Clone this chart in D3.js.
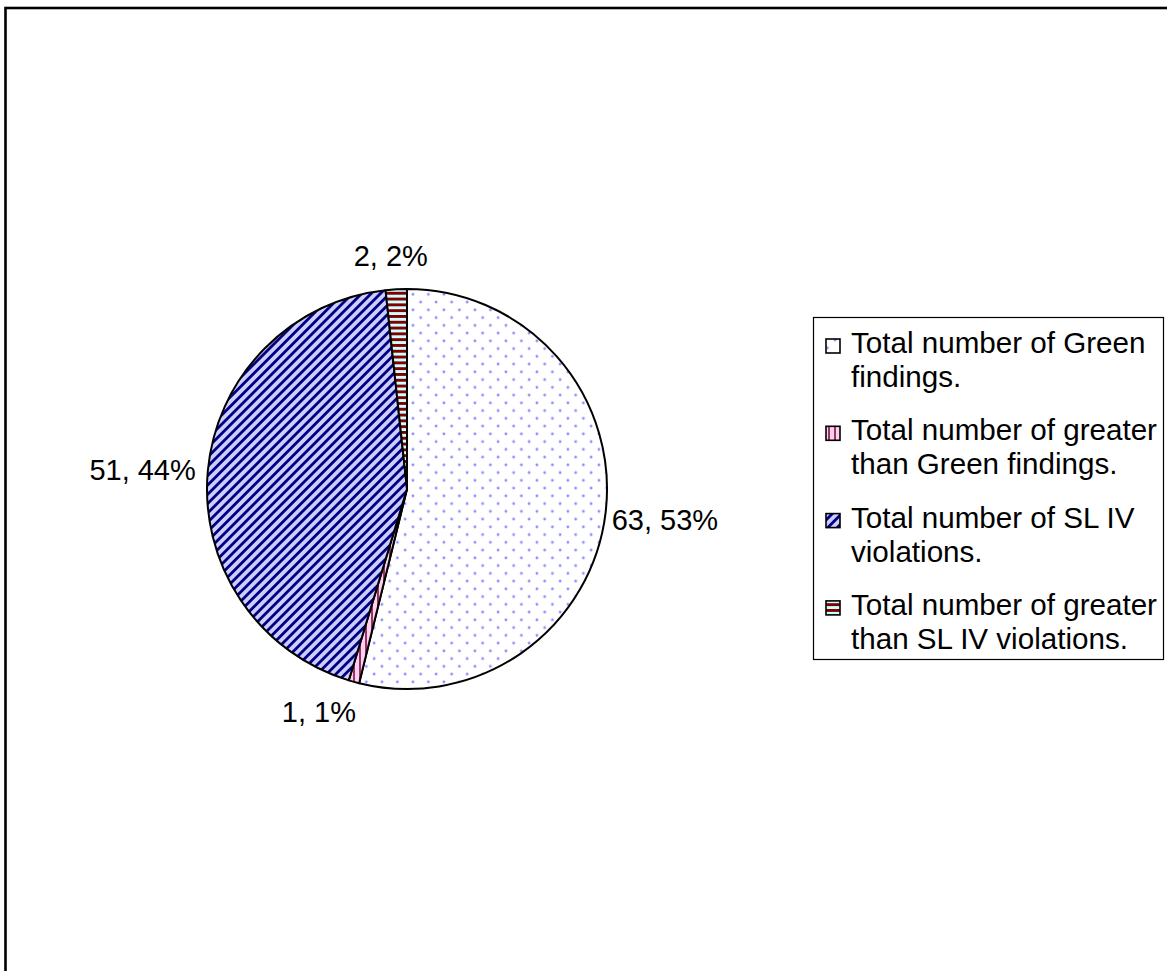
<!DOCTYPE html>
<html><head><meta charset="utf-8">
<script src="https://cdn.jsdelivr.net/npm/d3@7/dist/d3.min.js"></script>
<style>body{margin:0;background:#fff}svg{display:block}</style>
</head><body><svg id="c" width="1167" height="971"></svg>
<script>
// ---- data ----
const categories = ["Total number of Green findings.", "Total number of greater than Green findings.", "Total number of SL IV violations.", "Total number of greater than SL IV violations."];
const values = [63, 1, 51, 2];
const percentLabels = ["53%", "1%", "44%", "2%"];
const legendLines = [["Total number of Green", "findings."], ["Total number of greater", "than Green findings."], ["Total number of SL IV", "violations."], ["Total number of greater", "than SL IV violations."]];

// ---- layout ----
const FONT = "'Liberation Sans', Arial, sans-serif";
const FS = 29;
const LFS = 29.6;
const cx = 407, cy = 489, R = 200;
const labelGap = 8;
const labelNudge = [[-3, -1], [-26, -3], [-3, 5], [-4, -7]];
const patIds = ["pGreen", "pGtGreen", "pSL4", "pGtSL4"];

const svg = d3.select("#c");
svg.append("rect").attr("width", 1167).attr("height", 971).attr("fill", "#fff");
// outer frame
svg.append("rect").attr("x", 5.5).attr("y", 8).attr("width", 1300).attr("height", 1100)
  .attr("fill", "none").attr("stroke", "#000").attr("stroke-width", 2.6);

const defs = svg.append("defs");
// dotted (green findings)
let p = defs.append("pattern").attr("id", "pGreen").attr("patternUnits", "userSpaceOnUse")
  .attr("width", 15.5).attr("height", 15.5).attr("x", 2).attr("y", 3);
p.append("rect").attr("width", 15.5).attr("height", 15.5).attr("fill", "#fff");
p.append("circle").attr("cx", 3.9).attr("cy", 3.9).attr("r", 1.4).attr("fill", "#8c8cff");
p.append("circle").attr("cx", 11.65).attr("cy", 11.65).attr("r", 1.4).attr("fill", "#8c8cff");
// vertical stripes (greater than green)
p = defs.append("pattern").attr("id", "pGtGreen").attr("patternUnits", "userSpaceOnUse")
  .attr("width", 6).attr("height", 6);
p.append("rect").attr("width", 6).attr("height", 6).attr("fill", "#ffd0f0");
p.append("rect").attr("x", 0).attr("width", 2).attr("height", 6).attr("fill", "#993366");
// diagonal stripes (SL IV)
p = defs.append("pattern").attr("id", "pSL4").attr("patternUnits", "userSpaceOnUse")
  .attr("width", 6.6).attr("height", 6.6).attr("patternTransform", "rotate(45)");
p.append("rect").attr("width", 6.6).attr("height", 6.6).attr("fill", "#ccccff");
p.append("rect").attr("width", 2.8).attr("height", 6.6).attr("fill", "#000080");
// horizontal stripes (greater than SL IV)
p = defs.append("pattern").attr("id", "pGtSL4").attr("patternUnits", "userSpaceOnUse")
  .attr("width", 6).attr("height", 5.8);
p.append("rect").attr("width", 6).attr("height", 5.8).attr("fill", "#ccffff");
p.append("rect").attr("y", 0).attr("width", 6).attr("height", 2.9).attr("fill", "#800000");

const pie = d3.pie().sort(null).value(d => d).startAngle(0).endAngle(2 * Math.PI);
const arcs = pie(values);
const arc = d3.arc().innerRadius(0).outerRadius(R);

const g = svg.append("g").attr("transform", `translate(${cx},${cy})`);
g.selectAll("path.slice").data(arcs).join("path").attr("class", "slice")
  .attr("d", arc)
  .attr("fill", (d, i) => `url(#${patIds[i]})`)
  .attr("stroke", "#000").attr("stroke-width", 2).attr("stroke-linejoin", "round");

// data labels
const lbl = svg.append("g").attr("font-family", FONT).attr("font-size", FS).attr("fill", "#000");
arcs.forEach((d, i) => {
  const t = lbl.append("text").text(`${values[i]}, ${percentLabels[i]}`).attr("text-anchor", "middle");
  const w = t.node().getComputedTextLength();
  const h = 34;
  const a = (d.startAngle + d.endAngle) / 2;
  const dx = Math.sin(a), dy = -Math.cos(a);
  const support = Math.abs(dx) * w / 2 + Math.abs(dy) * h / 2;
  const dist = R + labelGap + support;
  const x = cx + dx * dist + labelNudge[i][0];
  const y = cy + dy * dist + labelNudge[i][1];
  t.attr("x", x).attr("y", y + 10.5);
});

// legend
const lx = 813, ly = 317, lw = 350, lh = 342;
const leg = svg.append("g");
leg.append("rect").attr("x", lx + 0.5).attr("y", ly + 0.5).attr("width", lw).attr("height", lh)
  .attr("fill", "#fff").attr("stroke", "#000").attr("stroke-width", 1.2);
const itemGap = 87.3, lineGap = 34, firstBase = 353;
legendLines.forEach((lines, i) => {
  const base = firstBase + i * itemGap;
  leg.append("rect").attr("x", 826).attr("y", base - 14).attr("width", 14).attr("height", 14)
    .attr("fill", `url(#${patIds[i]})`).attr("stroke", "#000").attr("stroke-width", 1.6);
  lines.forEach((s, j) => {
    leg.append("text").attr("x", 851).attr("y", base + j * lineGap)
      .attr("font-family", FONT).attr("font-size", LFS).attr("fill", "#000").text(s);
  });
});
</script></body></html>
